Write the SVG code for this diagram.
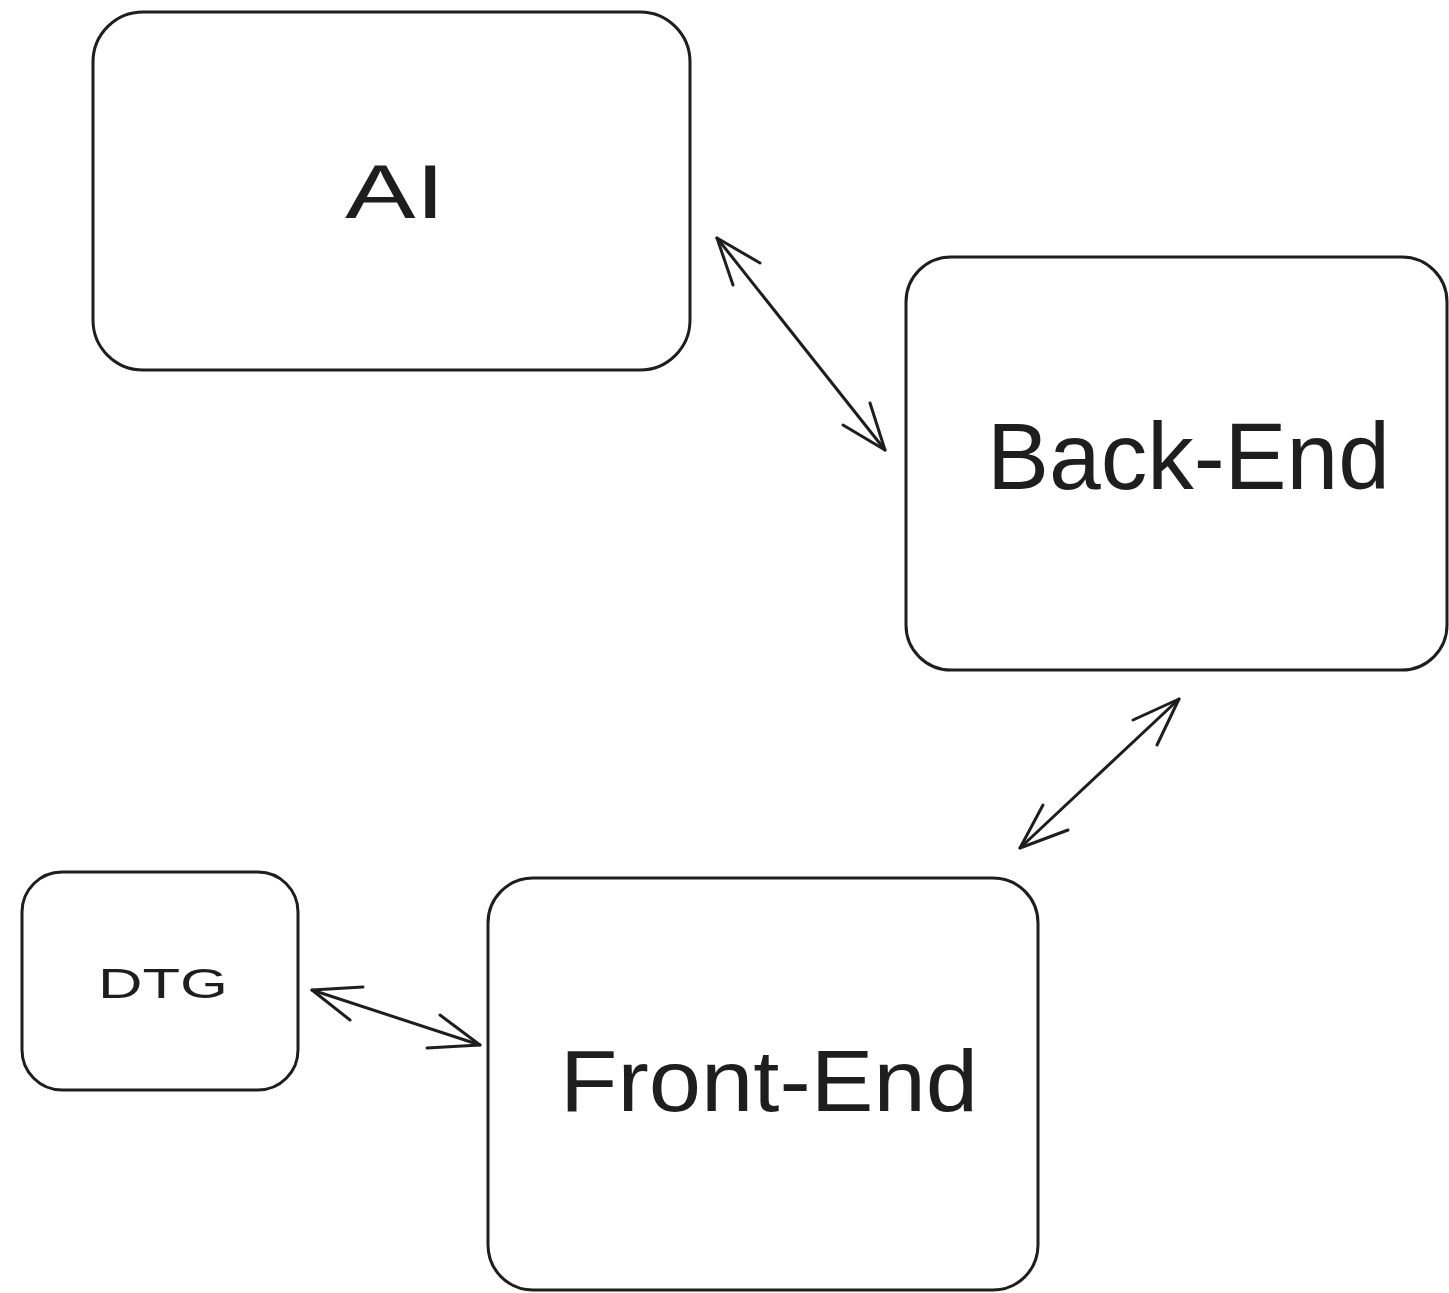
<svg xmlns="http://www.w3.org/2000/svg" width="1449" height="1293" viewBox="0 0 1449 1293">
  <style>
    .box { fill: #ffffff; stroke: #1e1e1e; stroke-width: 3; }
    .lbl { font-family: "Liberation Sans", Arial, sans-serif; fill: #1e1e1e; text-anchor: start; }
    .wire { fill: none; stroke: #1e1e1e; stroke-width: 3; stroke-linecap: round; stroke-linejoin: round; }
  </style>
  <rect width="1449" height="1293" fill="#ffffff"/>

  <g id="node-ai">
    <rect class="box" x="93" y="12" width="597" height="358" rx="50" ry="50"/>
    <text class="lbl" x="345" y="218" font-size="76" textLength="100" lengthAdjust="spacingAndGlyphs">AI</text>
  </g>

  <g id="node-backend">
    <rect class="box" x="906" y="257" width="541" height="413" rx="45" ry="45"/>
    <text class="lbl" x="987" y="489" font-size="94" textLength="403" lengthAdjust="spacingAndGlyphs">Back-End</text>
  </g>

  <g id="node-dtg">
    <rect class="box" x="22" y="872" width="276" height="218" rx="40" ry="40"/>
    <text class="lbl" x="98" y="998" font-size="42" textLength="130" lengthAdjust="spacingAndGlyphs">DTG</text>
  </g>

  <g id="node-frontend">
    <rect class="box" x="488" y="878" width="550" height="412" rx="45" ry="45"/>
    <text class="lbl" x="560" y="1111" font-size="88" textLength="418" lengthAdjust="spacingAndGlyphs">Front-End</text>
  </g>

  <g id="connectors">
    <!-- AI <-> Back-End -->
    <path class="wire" d="M717 238 L885 450"/>
    <path class="wire" d="M760 263 L717 238 L733 285"/>
    <path class="wire" d="M843 425 L885 450 L870 403"/>
    <!-- Back-End <-> Front-End -->
    <path class="wire" d="M1179 699 L1020 848"/>
    <path class="wire" d="M1133 720 L1179 699 L1157 745"/>
    <path class="wire" d="M1043 805 L1020 848 L1068 830"/>
    <!-- DTG <-> Front-End -->
    <path class="wire" d="M312 990 L480 1045"/>
    <path class="wire" d="M363 987 L312 990 L350 1020"/>
    <path class="wire" d="M427 1048 L480 1045 L440 1015"/>
  </g>
</svg>
